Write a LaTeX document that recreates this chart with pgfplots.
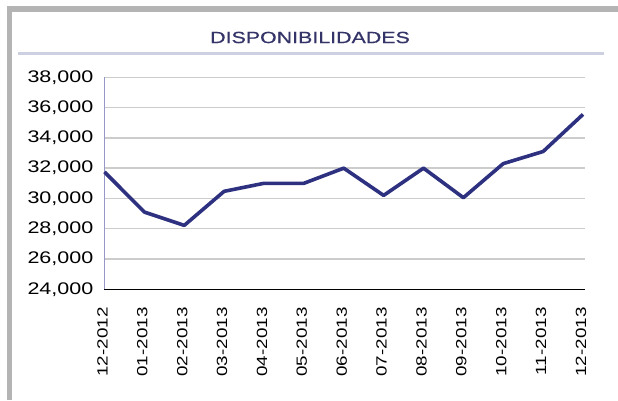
\documentclass[border=0pt]{standalone}
\usepackage{fontspec}
\usepackage{pgfplots}
\pgfplotsset{compat=1.18}
\setmainfont{Liberation Sans}
\newfontfamily\ytfont[FakeStretch=1.28]{Liberation Sans}
\newfontfamily\xtfont[FakeStretch=1.27]{Liberation Sans}
\newfontfamily\ttlfont[FakeStretch=1.32,FakeBold=0.6]{Liberation Sans}
\definecolor{linecol}{RGB}{46,49,128}
\definecolor{ttlcol}{RGB}{52,52,104}
\definecolor{sepcol}{RGB}{205,208,224}
\definecolor{framecol}{RGB}{180,180,180}
\definecolor{yaxcol}{RGB}{150,150,200}
\begin{document}
\begin{tikzpicture}
\useasboundingbox (0pt,0pt) rectangle (618pt,400pt);
\fill[white] (0pt,0pt) rectangle (618pt,400pt);
% frame
\fill[framecol] (7pt,388pt) rectangle (618pt,394pt);
\fill[framecol] (7pt,0pt) rectangle (12pt,394pt);
% title
\node[text=ttlcol, font=\ttlfont\fontsize{16.2}{18}\selectfont, inner sep=0pt] at (310pt,362.5pt) {DISPONIBILIDADES};
\draw[sepcol, line width=3pt] (18pt,346.7pt) -- (604pt,346.7pt);
\begin{axis}[
  at={(104.5pt,110.7pt)}, anchor=south west,
  scale only axis, width=480.5pt, height=212pt,
  xmin=0, xmax=12.05, ymin=24000, ymax=38000,
  ytick={24000,26000,...,38000},
  scaled y ticks=false,
  xtick={0,...,12},
  xticklabels={12-2012,01-2013,02-2013,03-2013,04-2013,05-2013,06-2013,07-2013,08-2013,09-2013,10-2013,11-2013,12-2013},
  axis x line*=bottom, axis y line*=left,
  x axis line style={black, line width=1.6pt, -},
  y axis line style={yaxcol, line width=1.2pt, -},
  major tick length=0pt,
  ymajorgrids, grid style={gray!40, line width=1.4pt},
  /pgf/number format/.cd, fixed, 1000 sep={,}, assume math mode=true,
  /pgfplots/.cd,
  yticklabel style={font=\ytfont\fontsize{16.8}{18}\selectfont, anchor=east, inner sep=0pt, xshift=-11pt},
  xticklabel style={font=\xtfont\fontsize{14.8}{16}\selectfont, yshift=-18pt, xshift=-2pt, rotate=90, anchor=east, inner sep=0pt},
  clip=false,
]
\addplot[linecol, line width=3.6pt, line join=round] coordinates {
(0,31750) (1,29100) (2,28220) (3,30470) (4,31000) (5,31000) (6,32000) (7,30200) (8,32000) (9,30050) (10,32300) (11,33100) (12,35550)
};
\end{axis}
\end{tikzpicture}
\end{document}
